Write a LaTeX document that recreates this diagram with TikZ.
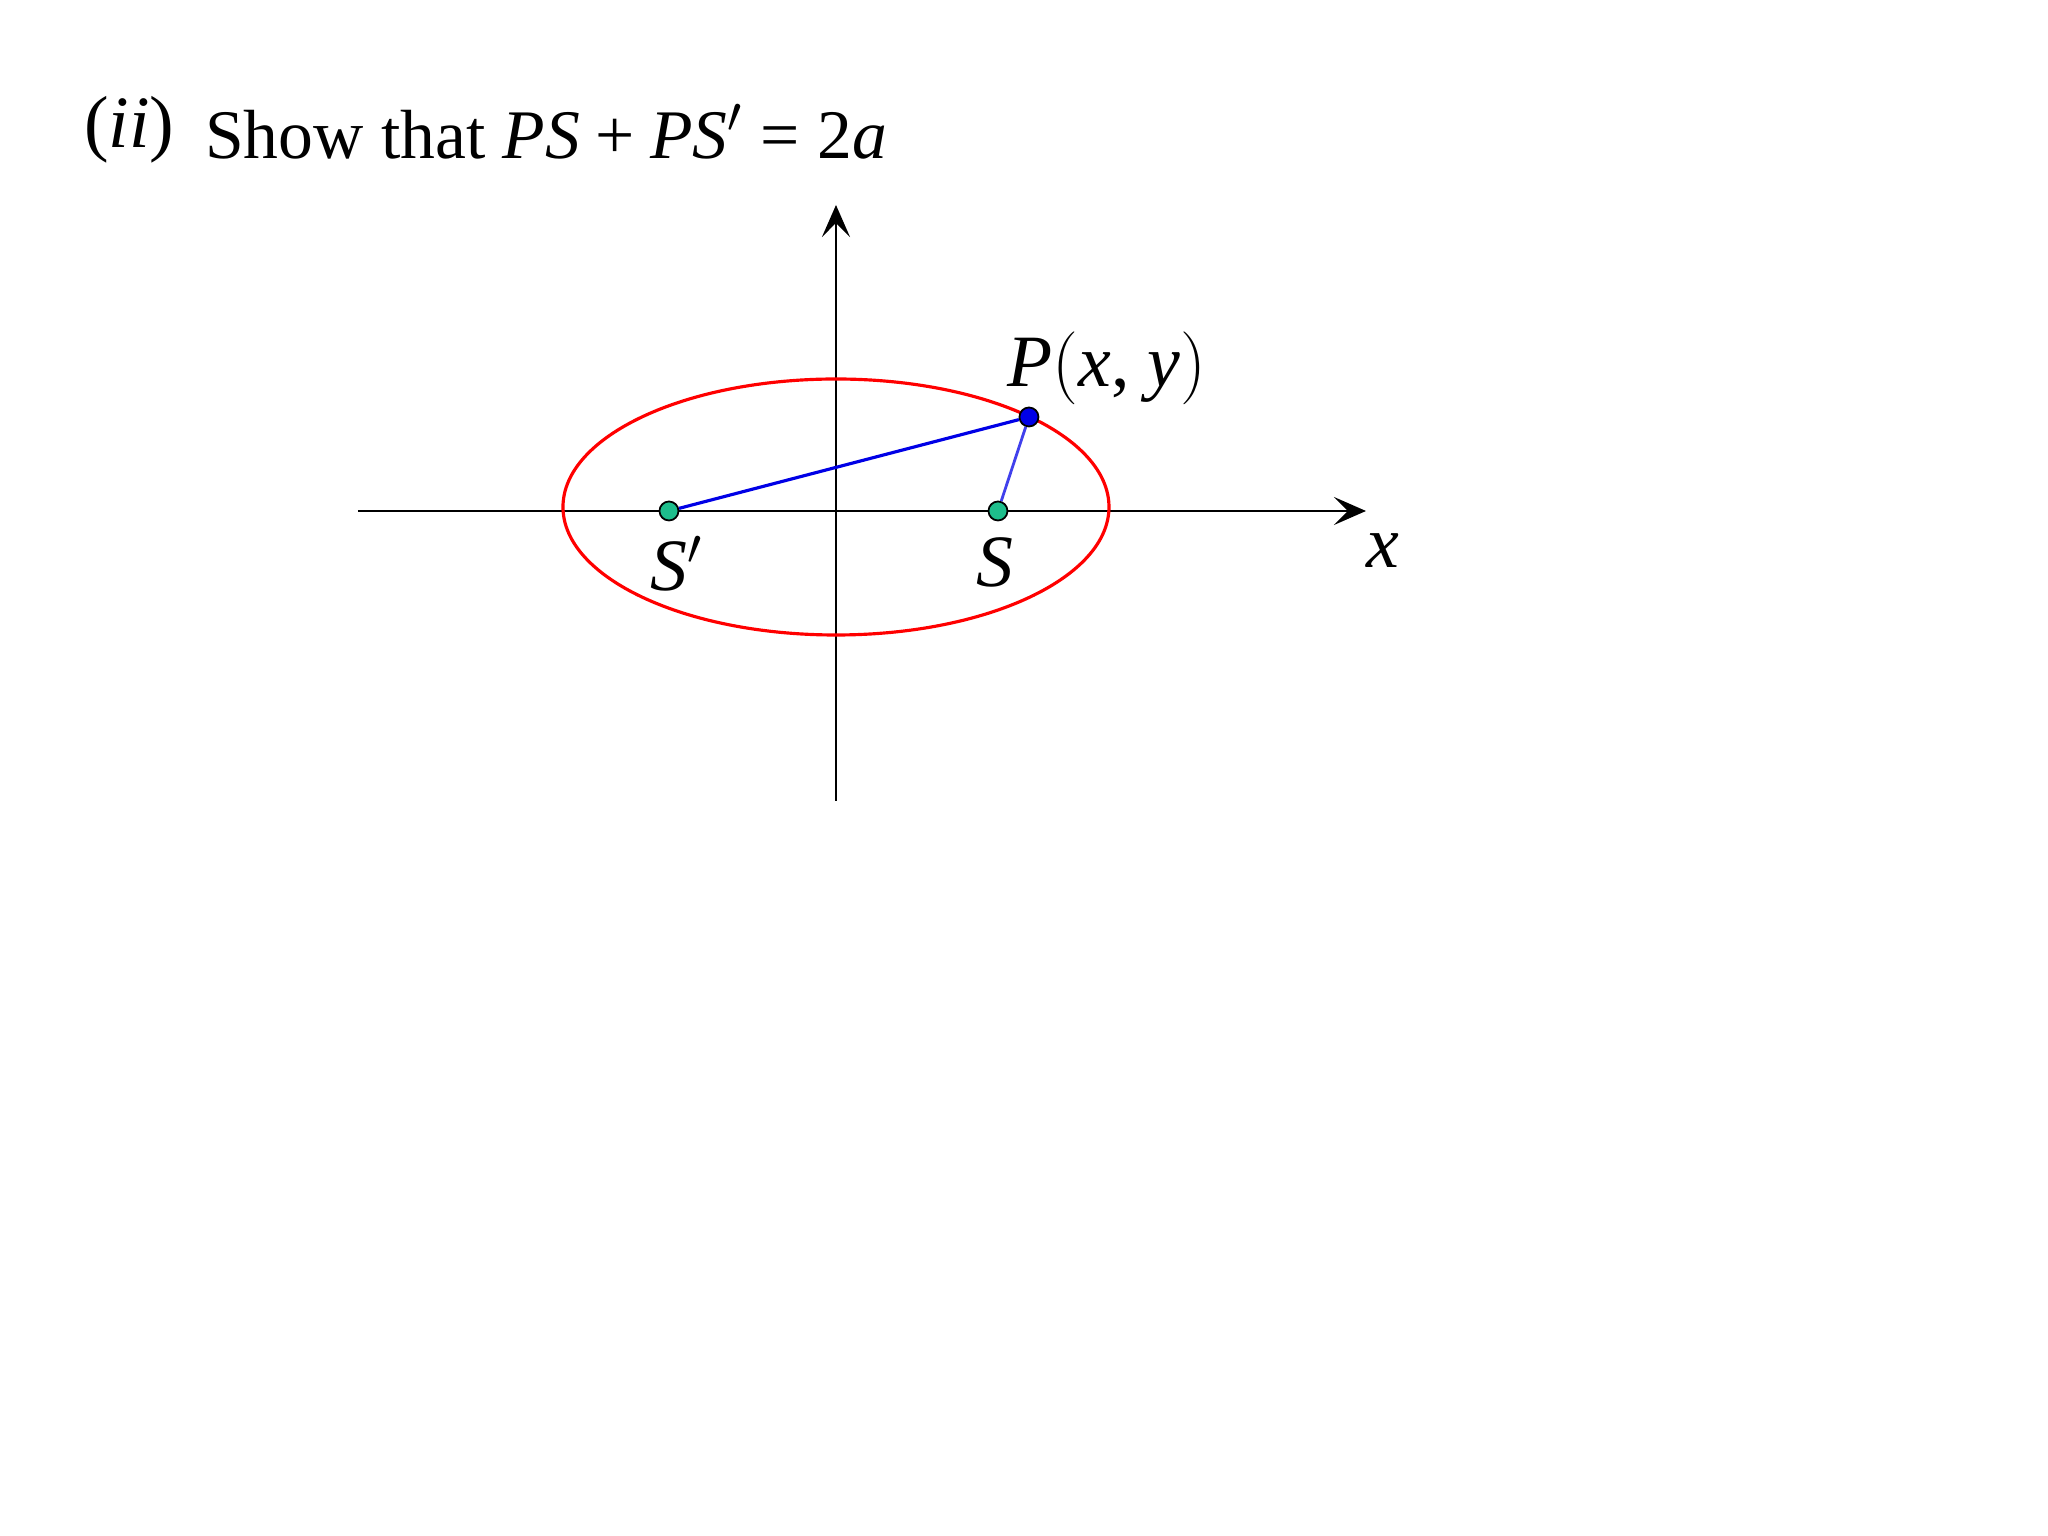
\documentclass[tikz,border=0pt]{standalone}
\usepackage{fontspec}
\setmainfont{Liberation Serif}
\usepackage{tikz}
\usetikzlibrary{arrows.meta}
\definecolor{focusgreen}{RGB}{30,190,140}
\definecolor{pblue}{RGB}{0,0,230}
\newcommand{\itl}[1]{\textit{#1}}

\begin{document}
\begin{tikzpicture}[thick, axis/.style = {line width=0.6pt, -{Stealth[length=3.2mm, width=2.8mm, inset=1.4mm]}},
  dot/.style = {draw, circle, line width=0.5pt, inner sep=0pt, minimum size=4.6mm},
  lbl/.style = {font=\fontsize{21}{25}\selectfont}]
            \useasboundingbox (-8.36,-10.25) rectangle (12.12,5.11);
            % Title
            \node[lbl, anchor=base west] (part) at (-7.65,3.63) {(\itl{ii})};
            \node[lbl, anchor=base west, font=\fontsize{19.8}{24}\selectfont] (title) at (-6.44,3.52) {Show that \itl{PS}\hspace{4.4pt}+\hspace{4.4pt}\itl{PS}$'$\hspace{5pt}=\hspace{5pt}2\itl{a}};
            % Axes
            \coordinate (xl) at (-4.78,0);
            \coordinate (xr) at (5.30,0);
            \coordinate (yb) at (0,-2.90);
            \coordinate (yt) at (0,3.06);
            \draw[axis] (xl) -- (xr);
            \draw[axis] (yb) -- (yt);
            \node[lbl] (xlab) at (5.47,-0.40) {\itl{x}};
            % Ellipse
            \draw[red, line width=0.9pt] (0,0.04) ellipse (2.73 and 1.28);
            % Points
            \node[dot, fill=focusgreen, minimum size=0.19cm] (S') at (-1.67,0) {};
            \node[dot, fill=focusgreen, minimum size=0.19cm] (S) at (1.62,0) {};
            \node[dot, fill=pblue, minimum size=0.19cm] (P) at (1.93,0.94) {};
            \node[lbl] (S'lab) at (-1.59,-0.53) {\itl{S}$'$};
            \node[lbl] (Slab) at (1.59,-0.51) {\itl{S}};
            \node[lbl] (Plab) at (2.71,1.43) {\itl{P}$\bigl($\itl{x}, \itl{y}$\bigr)$};
            % Edges
            \draw[pblue, line width=0.9pt] (S') -- (P);
            \draw[pblue!75!white, line width=0.8pt] (S) -- (P);
\end{tikzpicture}
\end{document}
